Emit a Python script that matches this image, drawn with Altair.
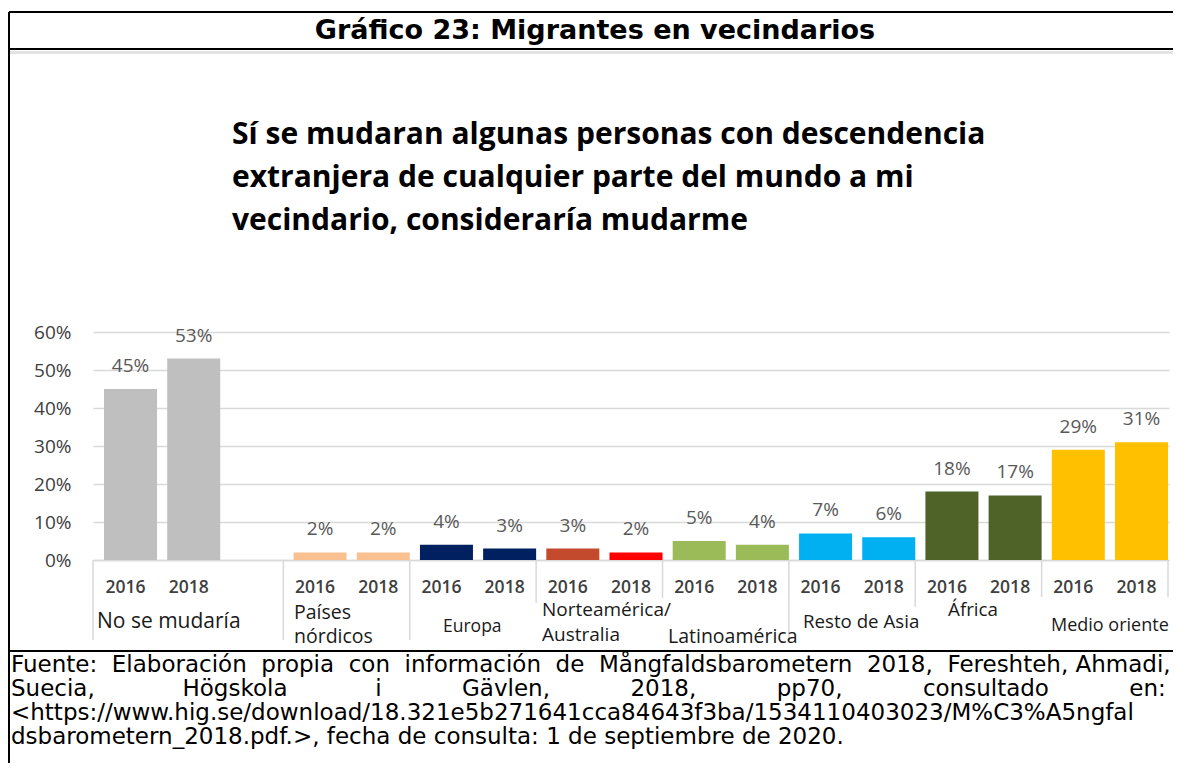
import altair as alt
import pandas as pd

# ---------------- data ----------------
groups = ["No se mudaría", "Países nórdicos", "Europa", "Norteamérica/Australia",
          "Latinoamérica", "Resto de Asia", "África", "Medio oriente"]
years = ["2016", "2018"]
v2016 = [45, 2, 4, 3, 5, 7, 18, 29]
v2018 = [53, 2, 3, 2, 4, 6, 17, 31]
bar_colors = ["#BFBFBF", "#BFBFBF", "#FAC090", "#FAC090", "#002060", "#002060",
              "#C34A2C", "#FF0000", "#9BBB59", "#9BBB59", "#00B0F0", "#00B0F0",
              "#4F6228", "#4F6228", "#FFC000", "#FFC000"]

header_title = "Gráfico 23: Migrantes en vecindarios"
chart_title = ["Sí se mudaran algunas personas con descendencia",
               "extranjera de cualquier parte del mundo a mi",
               "vecindario, consideraría mudarme"]
source_l1 = ["Fuente:", "Elaboración", "propia", "con", "información", "de",
             "Mångfaldsbarometern", "2018,", "Fereshteh,", "Ahmadi,"]
source_l2 = ["Suecia,", "Högskola", "i", "Gävlen,", "2018,", "pp70,", "consultado", "en:"]
source_l3 = "<https://www.hig.se/download/18.321e5b271641cca84643f3ba/1534110403023/M%C3%A5ngfal"
source_l4 = "dsbarometern_2018.pdf.>, fecha de consulta: 1 de septiembre de 2020."

# ---------------- table ----------------
rows = []
slots = []
for i, g in enumerate(groups):
    for y, v in zip(years, (v2016[i], v2018[i])):
        s = f"{y}|{g}"
        slots.append(s)
        rows.append({"slot": s, "group": g, "year": y, "value": v / 100})
    if i == 0:
        slots.append("|gap")
df = pd.DataFrame(rows)
data_slots = [r["slot"] for r in rows]

# ---------------- layout helpers (page pixel -> plot pixel) ----------------
OX, OY = 93, 332          # page position of plot origin
W, H = 1076, 228


def px(x):
    return x - OX


def py(y):
    return y - OY


xscale = alt.Scale(domain=slots, paddingInner=0.161, paddingOuter=0.095, align=0.917)
yscale = alt.Scale(domain=[0, 0.6], nice=False)

xaxis = alt.Axis(title=None, labelExpr="split(datum.value, '|')[0]", ticks=False, tickSize=0,
                 domain=True, domainColor="#d9d9d9", domainWidth=1.5, labelAngle=0,
                 labelFont="Open Sans", labelFontSize=17.5, labelFontWeight=600,
                 labelColor="#404040", labelPadding=27, labelBaseline="middle",
                 labelOffset=-5, grid=False, labelOverlap=False)
yaxis = alt.Axis(title=None, format=".0%", values=[0, 0.1, 0.2, 0.3, 0.4, 0.5, 0.6],
                 ticks=False, tickSize=0, domain=False, grid=True, gridColor="#d9d9d9",
                 gridWidth=1.5, labelFont="Open Sans", labelFontSize=19,
                 labelColor="#404040", labelPadding=22, labelOverlap=False)

X = alt.X("slot:N", scale=xscale, sort=slots, axis=xaxis)
Y = alt.Y("value:Q", scale=yscale, axis=yaxis)

base = alt.Chart(df)
bars = base.mark_bar().encode(
    x=X, y=Y,
    color=alt.Color("slot:N", scale=alt.Scale(domain=data_slots, range=bar_colors), legend=None),
)
labels = base.mark_text(dy=-23, baseline="middle", font="Open Sans", fontSize=19,
                        color="#595959").encode(
    x=X, y=Y, text=alt.Text("value:Q", format=".0%"),
)

layers = [bars, labels]


def rule(x1, y1, x2, y2, color="#000000", width=2):
    return alt.Chart(pd.DataFrame({"a": [0]})).mark_rule(color=color, strokeWidth=width).encode(
        x=alt.value(px(x1)), x2=alt.value(px(x2)), y=alt.value(py(y1)), y2=alt.value(py(y2)))


def text(t, x, y, size, font="Open Sans", weight="normal", color="#000000", align="left",
         line_height=None):
    kw = dict(font=font, fontSize=size, fontWeight=weight, color=color, align=align,
              baseline="middle")
    if line_height:
        kw["lineHeight"] = line_height
    return alt.Chart(pd.DataFrame({"a": [0]})).mark_text(**kw).encode(
        text=alt.value(t), x=alt.value(px(x)), y=alt.value(py(y)))


# category separators (right edge of the last slot in each group)
sep_after = ["|gap", "2018|Países nórdicos", "2018|Europa", "2018|Norteamérica/Australia",
             "2018|Latinoamérica", "2018|Resto de Asia", "2018|África", "2018|Medio oriente"]
sep_end = [640, 640, 603, 598, 640, 607, 597, 597]
for s, e in zip(sep_after, sep_end):
    layers.append(alt.Chart(pd.DataFrame({"slot": [s]})).mark_rule(
        color="#d9d9d9", strokeWidth=1.5).encode(
        x=alt.X("slot:N", scale=xscale, sort=slots, bandPosition=1, axis=xaxis),
        y=alt.value(H), y2=alt.value(py(e))))
layers.append(rule(93, 560, 93, 640, "#d9d9d9", 1.5))

# group labels (y = first line)
grp_lbl = [("No se mudaría", 97, 622, 21, None),
           (["Países", "nórdicos"], 294, 613, 19.5, 23.5),
           ("Europa", 443, 627, 17.5, None),
           (["Norteamérica/", "Australia"], 542, 610, 19, 25),
           ("Latinoamérica", 668, 637, 19.5, None),
           ("Resto de Asia", 803, 622, 18.7, None),
           ("África", 948, 610, 18.8, None),
           ("Medio oriente", 1051, 626, 18, None)]
for t, x, y, s, lh in grp_lbl:
    layers.append(text(t, x, y, s, color="#1a1a1a", line_height=lh))

# chart title
layers.append(text(chart_title, 232, 135, 30, weight="bold", line_height=43))

# document frame
layers.append(rule(9, 12, 1181, 12))
layers.append(rule(9, 49, 1181, 49))
layers.append(rule(9, 52.5, 1181, 52.5, "#e3e3e3", 3))
layers.append(rule(9, 651, 1181, 651))
layers.append(rule(9, 12, 9, 771))

layers.append(text(header_title, 595, 31, 27, font="DejaVu Sans", weight="bold", align="center"))

# source (justified with non-breaking spaces)
NB = "\u00a0"
l1_gaps = [2, 2, 2, 2, 2, 2, 2, 2, 1]
line1 = source_l1[0]
for w, g in zip(source_l1[1:], l1_gaps):
    line1 += NB * g + w
l2_gaps = [12, 12, 11, 11, 11, 11, 11]
line2 = source_l2[0]
for w, g in zip(source_l2[1:], l2_gaps):
    line2 += NB * g + w
layers.append(text([line1, line2, source_l3, source_l4], 11, 665, 23,
                   font="DejaVu Sans", line_height=24))

chart = alt.layer(*layers).properties(
    width=W, height=H,
    autosize=alt.AutoSizeParams(type="none"),
    padding={"left": 85, "top": 324, "right": 4, "bottom": 203},
    background="white",
).configure_view(stroke=None)

chart.save("out.html", embed_options={"renderer": "svg", "actions": False})
